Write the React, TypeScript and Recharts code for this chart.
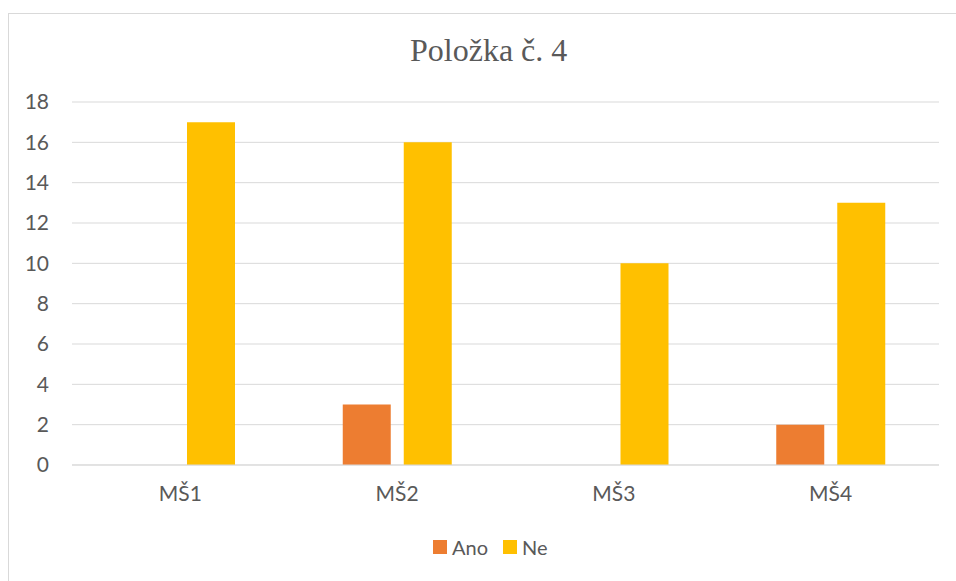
import React from "react";
import { BarChart, Bar, XAxis, YAxis, CartesianGrid, Legend } from "recharts";

const categories = ["MŠ1", "MŠ2", "MŠ3", "MŠ4"];
const anoValues = [0, 3, 0, 2];
const neValues = [17, 16, 10, 13];
const yTicks = [0, 2, 4, 6, 8, 10, 12, 14, 16, 18];

const data = categories.map((name, i) => ({ name, Ano: anoValues[i], Ne: neValues[i] }));

const TEXT = "#595959";
const FONT = "Lato, 'Open Sans', sans-serif";

const renderLegend = (props: any) => {
  const { payload } = props;
  return (
    <div style={{ display: "flex", alignItems: "center", fontFamily: FONT, fontSize: 20, color: TEXT }}>
      {payload.map((p: any, i: number) => (
        <div key={i} style={{ display: "flex", alignItems: "center", marginRight: 15 }}>
          <span style={{ width: 14, height: 14, background: p.color, display: "inline-block", marginRight: 5 }} />
          <span>{p.value}</span>
        </div>
      ))}
    </div>
  );
};

export default function App() {
  return (
    <div
      style={{
        position: "fixed",
        left: 8,
        top: 13,
        width: 947,
        height: 567,
        borderLeft: "1px solid #d9d9d9",
        borderTop: "1px solid #d9d9d9",
        background: "#fff",
        overflow: "hidden",
      }}
    >
      <div
        style={{
          position: "absolute",
          left: 401,
          top: 18,
          fontFamily: "'Liberation Serif', 'Times New Roman', serif",
          fontSize: 32,
          color: TEXT,
          whiteSpace: "nowrap",
        }}
      >
        Položka č. 4
      </div>
      <BarChart
        width={960}
        height={580}
        data={data}
        margin={{ top: 88, right: 30, bottom: 79, left: 23 }}
        barSize={48}
        barGap={13}
      >
        <CartesianGrid horizontal vertical={false} stroke="#d9d9d9" strokeWidth={1} />
        <XAxis
          dataKey="name"
          axisLine={{ stroke: "#d9d9d9" }}
          tickLine={false}
          tickSize={0}
          tickMargin={21}
          height={50}
          tick={{ fill: TEXT, fontFamily: FONT, fontSize: 21 }}
        />
        <YAxis
          domain={[0, 18]}
          ticks={yTicks}
          interval={0}
          axisLine={false}
          tickLine={false}
          tickSize={0}
          tickMargin={23}
          width={40}
          tick={{ fill: TEXT, fontFamily: FONT, fontSize: 21 }}
        />
        <Legend
          layout="horizontal"
          verticalAlign="middle"
          align="center"
          content={renderLegend}
          wrapperStyle={{ top: 521, left: 424, width: 200 }}
        />
        <Bar dataKey="Ano" fill="#ED7D31" isAnimationActive={false} />
        <Bar dataKey="Ne" fill="#FFC000" isAnimationActive={false} />
      </BarChart>
    </div>
  );
}
